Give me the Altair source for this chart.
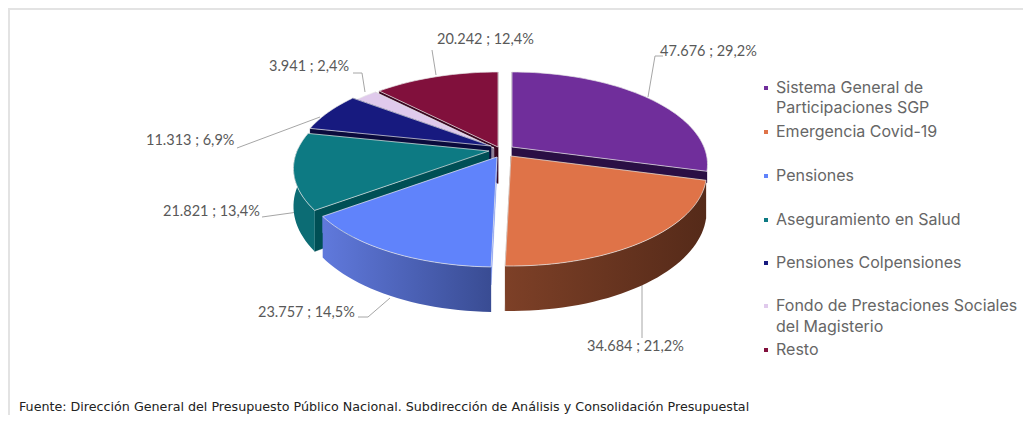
import math
import altair as alt

categories = ["Sistema General de Participaciones SGP", "Emergencia Covid-19", "Pensiones",
              "Aseguramiento en Salud", "Pensiones Colpensiones",
              "Fondo de Prestaciones Sociales del Magisterio", "Resto"]
values = [47676, 34684, 23757, 21821, 11313, 3941, 20242]
percents = ["29,2%", "21,2%", "14,5%", "13,4%", "6,9%", "2,4%", "12,4%"]
top_colors = ["#702E9B", "#DF7348", "#6083FB", "#0D7A83", "#171A7F", "#E0CAEC", "#81103C"]
inner_colors = ["#2A0F44", "#6B3720", "#6F8CF0", "#004F55", "#0A0A3C", "#8E7F96", "#3A0620"]
wall_stops = [("#2A0F44", "#2A0F44"), ("#7D4027", "#552A19"), ("#6079DC", "#394C93"),
              ("#0C6C74", "#0A6068"), ("#0A0A3C", "#0A0A3C"), ("#8E7F96", "#8E7F96"), ("#3A0620", "#3A0620")]
# explosion: where each slice's tip sits
apex_x = [512, 511, 497, 489, 491, 494, 498]
apex_y = [147, 156, 157, 151, 146, 148, 147]
# how much of each slice's cut face is left showing
cut_depth = [0.3, 1, 0.4, 1, 1, 1, 1]
draw_order = [0, 6, 5, 4, 3, 2, 1]

label_text = [f"{v:,}".replace(",", ".") + " ; " + p for v, p in zip(values, percents)]
label_x = [660, 587, 258, 163, 146, 269, 437]
label_y = [52, 347, 313, 212, 141, 67, 40]
leaders = [[(648, 97), (655, 56), (663, 56)], [(642, 285), (642, 338)],
           [(390, 298), (368, 317), (358, 317)], [(262, 217), (298, 212)],
           [(237, 148), (320, 117)], [(365, 92), (362, 73), (353, 73)], [(436, 75), (432, 50)]]

legend_lines = ["Sistema General de", "Participaciones SGP", "Emergencia Covid-19", "Pensiones",
                "Aseguramiento en Salud", "Pensiones Colpensiones", "Fondo de Prestaciones Sociales",
                "del Magisterio", "Resto"]
legend_line_y = [88, 108, 132, 176, 220, 263, 306, 327, 350]
legend_marker_y = [88, 132, 176, 220, 263, 306, 350]
source = ("Fuente: Dirección General del Presupuesto Público Nacional. "
          "Subdirección de Análisis y Consolidación Presupuestal")

B, A, K, H = 192.0, 89.2, 0.189, 36.5
OFF = 8


def rim(i, th, depth=0.0):
    X, Y = math.sin(th), math.cos(th)
    d = 1 + K * Y
    return [apex_x[i] + B * X / d, apex_y[i] - A * Y / d + depth * H / d]


def arc_pts(i, t0, t1, depth=0.0):
    n = max(2, int(abs(t1 - t0) / math.radians(2)))
    return [rim(i, t0 + (t1 - t0) * j / n, depth) for j in range(n + 1)]


def geo(points):
    ring = points + [points[0]]
    return alt.InlineData(values=[{"type": "Feature", "properties": {},
                                   "geometry": {"type": "Polygon", "coordinates": [ring]}}])


proj = alt.Projection(type="identity", scale=1, translate=[-OFF, -OFF])
total = sum(values)
starts, acc = [], 0
for v in values:
    starts.append(acc / total * 2 * math.pi)
    acc += v

layers = []


def shape(points, **mark):
    layers.append(alt.Chart(geo(points)).mark_geoshape(**mark).project(**proj.to_dict()))


X_ = alt.X("x:Q", scale=None, axis=None)
Y_ = alt.Y("y:Q", scale=None, axis=None)

# frame
layers.append(alt.Chart(alt.InlineData(values=[{"x": 1, "y": 420, "o": 0}, {"x": 1, "y": 1, "o": 1}, {"x": 1030, "y": 1, "o": 2}])).mark_line(
    color="#E3E3E3", strokeWidth=2).encode(x=X_, y=Y_, order=alt.Order("o:Q")))

# leader lines
rows = []
for k, pts in enumerate(leaders):
    for o, (x, y) in enumerate(pts):
        rows.append({"k": k, "o": o, "x": x - OFF, "y": y - OFF})
layers.append(alt.Chart(alt.InlineData(values=rows)).mark_line(color="#A6A6A6", strokeWidth=1).encode(
    x=X_, y=Y_, detail="k:N", order=alt.Order("o:Q")))

# slices, back to front
for i in draw_order:
    t0 = starts[i]
    t1 = t0 + values[i] / total * 2 * math.pi
    apex = [apex_x[i], apex_y[i]]
    dp = cut_depth[i]
    apex_d = [apex_x[i], apex_y[i] + dp * H]
    for t in (t0, t1):
        shape([apex, rim(i, t), rim(i, t, dp), apex_d], fill=inner_colors[i], stroke=inner_colors[i], strokeWidth=0.3)
    a, b = max(t0, math.radians(88)), min(t1, math.radians(272))
    if b > a and i != 0:
        up, low = arc_pts(i, a, b), arc_pts(i, a, b, 1.0)
        c0, c1 = wall_stops[i]
        if i in (1, 2):
            grad = alt.LinearGradient(gradient="linear", x1=0, x2=1, y1=0, y2=0,
                                      stops=[alt.GradientStop(color=c0, offset=0), alt.GradientStop(color=c1, offset=1)])
        else:
            grad = c0
        shape(up + low[::-1], fill=grad, strokeWidth=0)
    shape([apex] + arc_pts(i, t0, t1), fill=top_colors[i], stroke="#E6E6E6", strokeWidth=0.7)

# data labels
lab = [{"t": t, "x": x - OFF, "y": y - OFF} for t, x, y in zip(label_text, label_x, label_y)]
layers.append(alt.Chart(alt.InlineData(values=lab)).mark_text(
    align="left", baseline="middle", font="Lato", fontSize=14.5, color="#595959").encode(x=X_, y=Y_, text="t:N"))

# legend
leg = [{"t": t, "x": 776 - OFF, "y": y - OFF} for t, y in zip(legend_lines, legend_line_y)]
layers.append(alt.Chart(alt.InlineData(values=leg)).mark_text(
    align="left", baseline="middle", font="Inter", fontSize=16, color="#666666").encode(x=X_, y=Y_, text="t:N"))
mk = [{"c": c, "x": 766 - OFF, "y": y - OFF} for c, y in zip(top_colors, legend_marker_y)]
layers.append(alt.Chart(alt.InlineData(values=mk)).mark_square(size=16, opacity=1).encode(
    x=X_, y=Y_, color=alt.Color("c:N", scale=None, legend=None)))

# source
layers.append(alt.Chart(alt.InlineData(values=[{"t": source, "x": 19 - OFF, "y": 407 - OFF}])).mark_text(
    align="left", baseline="middle", font="DejaVu Sans", fontSize=12.7, color="#222222").encode(x=X_, y=Y_, text="t:N"))

chart = alt.layer(*layers).properties(
    width=1015, height=407, padding=0, autosize=alt.AutoSizeParams(type="none"),
).configure_view(stroke=None)

chart.save("out.html", embed_options={"renderer": "svg", "actions": False})
